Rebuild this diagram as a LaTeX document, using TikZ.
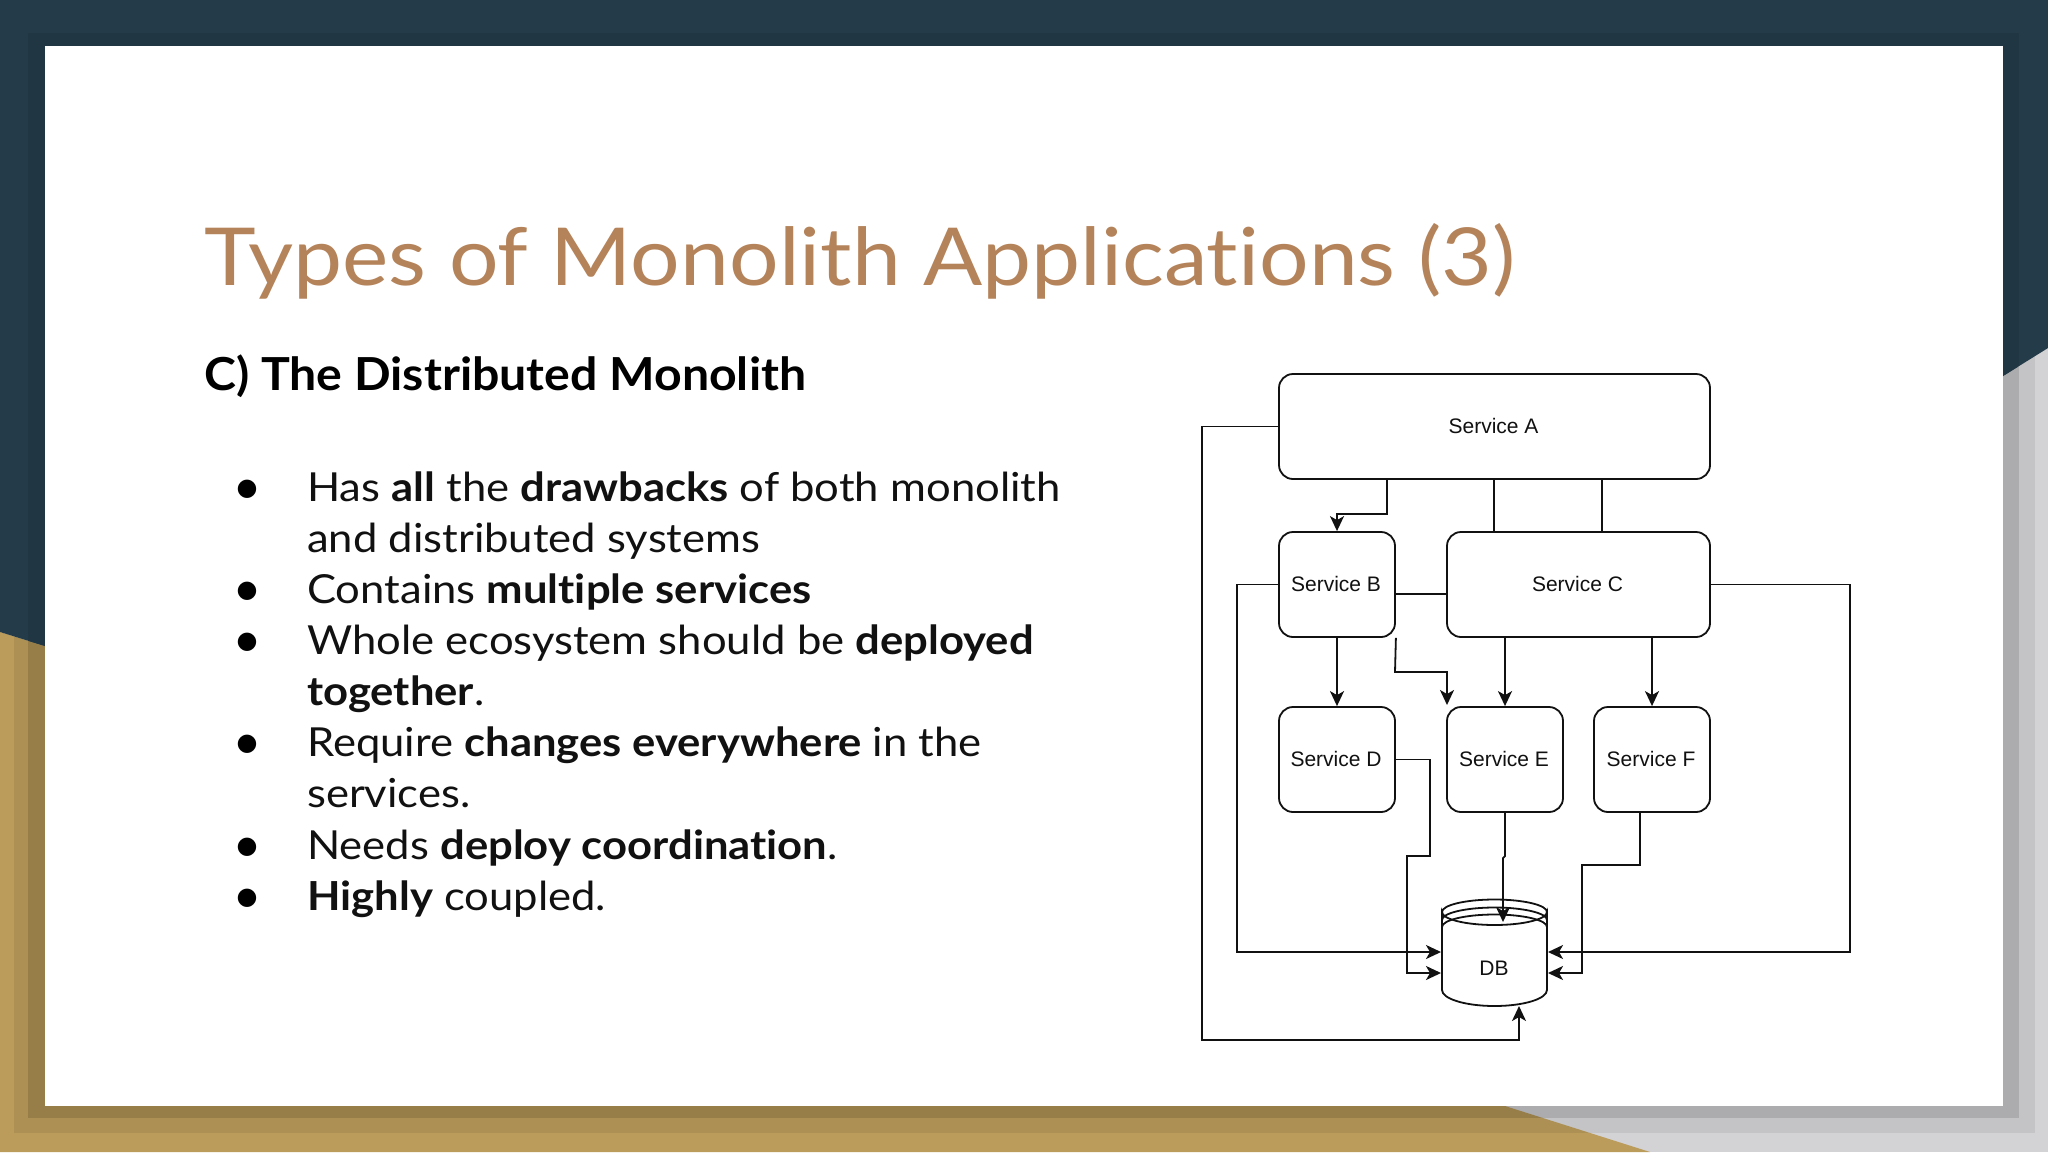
\documentclass[tikz,border=0pt]{standalone}
\usepackage{fontspec}
\setmainfont{Lato}[Ligatures=NoCommon]
\newfontfamily\titlef{Lato}[FakeStretch=1.094,Ligatures=NoCommon]
\newfontfamily\headf{Lato}[FakeStretch=1.06,Ligatures=NoCommon,UprightFont=*-Bold]
\newfontfamily\bodyf{Lato}[FakeStretch=1.09,Ligatures=NoCommon]
\newfontfamily\diagfont{Liberation Sans}
\newfontfamily\dotfont{DejaVu Sans}
\usetikzlibrary{arrows.meta,calc}
\definecolor{navy}{HTML}{243C4A}
\definecolor{navyd}{HTML}{203642}
\definecolor{gold}{HTML}{BB9C5B}
\definecolor{greybg}{HTML}{D3D2D4}
\definecolor{titlec}{HTML}{B5835A}
\definecolor{inkc}{HTML}{111111}
\newcommand\svct[1]{\raisebox{1.5pt}{#1}\kern2pt}
\tikzset{
  svc/.style={draw=inkc,line width=1.8pt,rounded corners=14pt,fill=white,inner sep=0pt,font=\diagfont\fontsize{21}{24}\selectfont,text=inkc},
  conn/.style={draw=inkc,line width=1.8pt},
  arr/.style={conn,-{Stealth[length=15pt,width=14pt,inset=4pt]}},
  titlet/.style={anchor=base west,inner sep=0pt,text=titlec,font=\titlef\fontsize{80}{90}\selectfont},
  headt/.style={anchor=base west,inner sep=0pt,text=black,font=\headf\fontsize{45.5}{54}\selectfont},
  bodyt/.style={anchor=base west,inner sep=0pt,text=inkc,font=\bodyf\fontsize{40}{51}\selectfont},
  dott/.style={anchor=base,inner sep=0pt,text=black,font=\dotfont\fontsize{24}{30}\selectfont},
}
\begin{document}
\begin{tikzpicture}[x=1pt,y=-1pt]
\useasboundingbox (0,0) rectangle (2048,1152);
% background
\fill[greybg] (0,0) rectangle (2048,1152);
\fill[gold] (0,632) -- (45,646) -- (45,1106) -- (1505,1106) -- (1650,1152) -- (0,1152) -- cycle;
% card shadow
\fill[black,opacity=.07] (14,20) rectangle (2035,1133);
\fill[black,opacity=.12] (28,33) rectangle (2019,1118);
\begin{scope}
\clip (0,0) -- (2048,0) -- (2048,348) -- (2003,376) -- (45,646) -- (0,632) -- cycle;
\fill[navy] (0,0) rectangle (2048,1152);
\fill[navyd] (28,33) rectangle (2019,1118);
\end{scope}
\fill[white] (45,46) rectangle (2003,1106);
% text
\node[titlet] (title) at (204,285) {Types of Monolith Applications (3)};
\node[headt] (head) at (204,390) {C) The Distributed Monolith};
\node[dott] (b1) at (247,495) {●};
\node[bodyt] (l1) at (307,501) {Has {\bfseries all} the {\bfseries drawbacks} of both monolith};
\node[bodyt] (l2) at (307,552) {and distributed systems};
\node[dott] (b2) at (247,597) {●};
\node[bodyt] (l3) at (307,603) {Contains {\bfseries multiple services}};
\node[dott] (b3) at (247,648) {●};
\node[bodyt] (l4) at (307,654) {Whole ecosystem should be {\bfseries deployed}};
\node[bodyt] (l5) at (307,705) {{\bfseries together}.};
\node[dott] (b4) at (247,750) {●};
\node[bodyt] (l6) at (307,756) {Require {\bfseries changes everywhere} in the};
\node[bodyt] (l7) at (307,807) {services.};
\node[dott] (b5) at (247,853) {●};
\node[bodyt] (l8) at (307,859) {Needs {\bfseries deploy coordination}.};
\node[dott] (b6) at (247,904) {●};
\node[bodyt] (l9) at (307,910) {{\bfseries Highly} coupled.};
% services
\node[svc,minimum width=431pt,minimum height=105pt] (A) at (1494.5,426.5) {\svct{Service A}};
\node[svc,minimum width=116pt,minimum height=105pt] (B) at (1337,584.5) {\svct{Service B}};
\node[svc,minimum width=263pt,minimum height=105pt] (C) at (1578.5,584.5) {\svct{Service C}};
\node[svc,minimum width=116pt,minimum height=105pt] (D) at (1337,759.5) {\svct{Service D}};
\node[svc,minimum width=116pt,minimum height=105pt] (E) at (1505,759.5) {\svct{Service E}};
\node[svc,minimum width=116pt,minimum height=105pt] (F) at (1652,759.5) {\svct{Service F}};
% database
\node[inner sep=0pt,minimum width=105pt,minimum height=107pt] (DB) at (1494.5,952.5) {};
\draw[conn,fill=white] (1442,912) arc[start angle=180,end angle=0,x radius=52.5,y radius=13]
  -- (1547,990) arc[start angle=0,end angle=180,x radius=52.5,y radius=16] -- cycle;
\draw[conn] (1442,912) arc[start angle=180,end angle=360,x radius=52.5,y radius=12.5];
\draw[conn] (1442,920) arc[start angle=180,end angle=360,x radius=52.5,y radius=12.5];
\draw[conn] (1442,927) arc[start angle=180,end angle=360,x radius=52.5,y radius=12.5];
\node[inner sep=0pt,font=\diagfont\fontsize{21}{24}\selectfont,text=inkc] (dbt) at (1494,968) {DB};
% connectors
\draw[arr] (A.west) -- (1202,426.5) -- (1202,1040) -- (1519,1040) -- (1519,1006);
\draw[arr] ([xshift=-107.5pt]A.south) -- (1387,514) -- (1337,514) -- (B.north);
\draw[conn] ([xshift=-.5pt]A.south) -- ([xshift=-84.5pt]C.north);
\draw[conn] ([xshift=107.5pt]A.south) -- ([xshift=23.5pt]C.north);
\draw[arr] (B.west) -- (1237,584.5) -- (1237,952) -- (1441,952);
\draw[conn] ([yshift=-9.5pt]B.east) -- ([yshift=-9.5pt]C.west);
\draw[arr] (B.south) -- (D.north);
\draw[arr] (B.south east) -- (1395,672) -- (1447,672) -- (1447,705);
\draw[arr] ([xshift=-73.5pt]C.south) -- (E.north);
\draw[arr] ([xshift=73.5pt]C.south) -- (F.north);
\draw[arr] (C.east) -- (1850,584.5) -- (1850,952) -- (1548,952);
\draw[arr] (D.east) -- (1430,759.5) -- (1430,856) -- (1407,856) -- (1407,973) -- (1441,973);
\draw[arr] (E.south) -- (1505,856) -- (1503,858) -- (1503,922);
\draw[arr] ([xshift=-12pt]F.south) -- (1640,865) -- (1582,865) -- (1582,973) -- (1548,973);
\end{tikzpicture}
\end{document}
